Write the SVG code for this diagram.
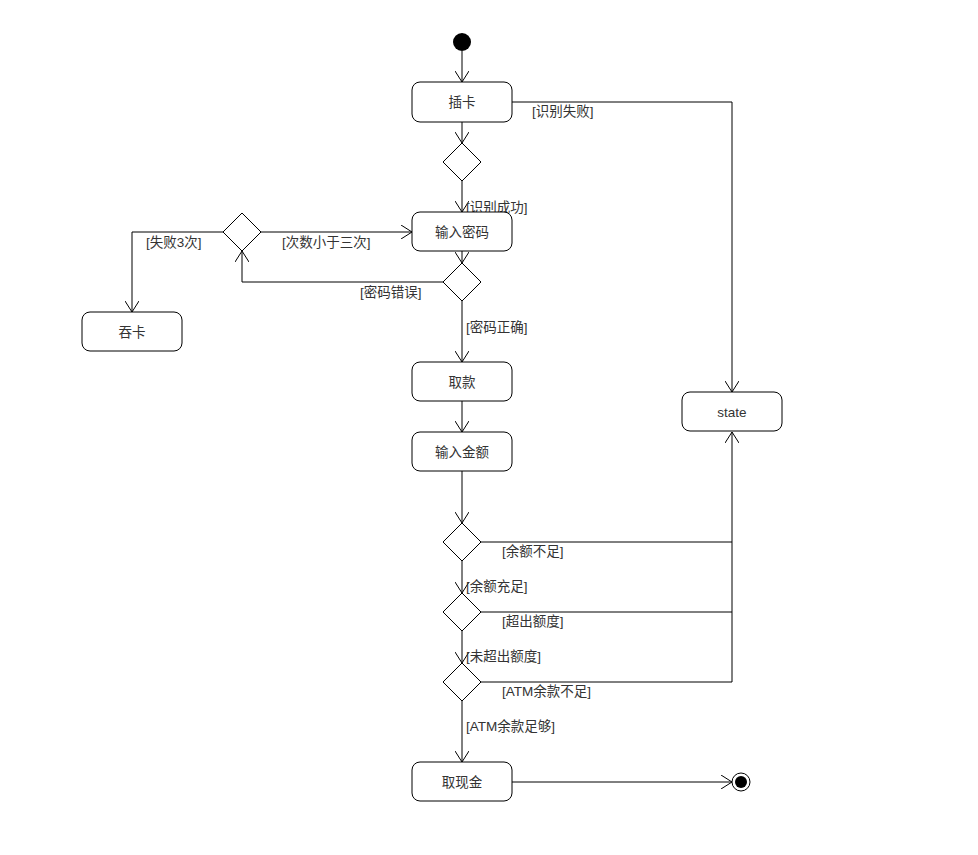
<svg xmlns="http://www.w3.org/2000/svg" width="978" height="855" viewBox="0 0 978 855">
<defs>
<marker id="arr" viewBox="0 0 12 14" refX="11" refY="7" markerWidth="12" markerHeight="14" markerUnits="userSpaceOnUse" orient="auto">
<path d="M0,0 L11,7 L0,14" fill="none" stroke="#000" stroke-width="1"/>
</marker>
</defs>
<style>
.box{fill:#fff;stroke:#000;stroke-width:1}
.dia{fill:#fff;stroke:#000;stroke-width:1}
.c{fill:none;stroke:#000;stroke-width:1;marker-end:url(#arr)}
.t{font-family:"Liberation Sans","Noto Sans CJK SC",sans-serif;font-size:13.5px;fill:#333}
.m{text-anchor:middle}
</style>
<rect width="978" height="855" fill="#fff"/>
<g id="connectors">
<path class="c" d="M462,51 V82"/>
<path class="c" d="M512,102 H732 V392"/>
<path class="c" d="M462,122 V143"/>
<path class="c" d="M462,181 V212"/>
<path class="c" d="M462,251 V263"/>
<path class="c" d="M443,282 H242 V251"/>
<path class="c" d="M261,232 H412"/>
<path class="c" d="M223,232 H132 V312"/>
<path class="c" d="M462,301 V362"/>
<path class="c" d="M462,401 V432"/>
<path class="c" d="M462,471 V523"/>
<path class="c" d="M481,542 H732 V432"/>
<path class="c" d="M462,561 V593"/>
<path fill="none" stroke="#000" d="M481,612 H732"/>
<path class="c" d="M462,631 V663"/>
<path fill="none" stroke="#000" d="M481,682 H732 V542"/>
<path class="c" d="M462,701 V762"/>
<path class="c" d="M512,782 H732"/>
<text class="t" x="532" y="116">[识别失败]</text>
<text class="t" x="466" y="212">[识别成功]</text>
<text class="t" x="282" y="247">[次数小于三次]</text>
<text class="t" x="146" y="247">[失败3次]</text>
<text class="t" x="360" y="297">[密码错误]</text>
<text class="t" x="466" y="332">[密码正确]</text>
<text class="t" x="502" y="556">[余额不足]</text>
<text class="t" x="466" y="591">[余额充足]</text>
<text class="t" x="502" y="626">[超出额度]</text>
<text class="t" x="466" y="661">[未超出额度]</text>
<text class="t" x="502" y="696">[ATM余款不足]</text>
<text class="t" x="466" y="731">[ATM余款足够]</text>
</g>
<g id="start"><circle cx="462" cy="42" r="9" fill="#000"/></g>
<g id="insert"><rect class="box" x="412" y="82" width="100" height="40" rx="8"/><text class="t m" x="462" y="107">插卡</text></g>
<g id="d1"><path class="dia" d="M462,143 L481,162 L462,181 L443,162 Z"/></g>
<g id="pwd"><rect class="box" x="412" y="212" width="100" height="39" rx="8"/><text class="t m" x="462" y="237">输入密码</text></g>
<g id="d2"><path class="dia" d="M462,263 L481,282 L462,301 L443,282 Z"/></g>
<g id="d3"><path class="dia" d="M242,213 L261,232 L242,251 L223,232 Z"/></g>
<g id="swallow"><rect class="box" x="82" y="312" width="100" height="39" rx="8"/><text class="t m" x="132" y="337">吞卡</text></g>
<g id="withdraw"><rect class="box" x="412" y="362" width="100" height="39" rx="8"/><text class="t m" x="462" y="387">取款</text></g>
<g id="amount"><rect class="box" x="412" y="432" width="100" height="39" rx="8"/><text class="t m" x="462" y="457">输入金额</text></g>
<g id="d4"><path class="dia" d="M462,523 L481,542 L462,561 L443,542 Z"/></g>
<g id="d5"><path class="dia" d="M462,593 L481,612 L462,631 L443,612 Z"/></g>
<g id="d6"><path class="dia" d="M462,663 L481,682 L462,701 L443,682 Z"/></g>
<g id="cash"><rect class="box" x="412" y="762" width="100" height="39" rx="8"/><text class="t m" x="462" y="787">取现金</text></g>
<g id="state"><rect class="box" x="682" y="392" width="100" height="39" rx="8"/><text class="t m" x="732" y="417">state</text></g>
<g id="end"><circle cx="741" cy="782" r="9" fill="#fff" stroke="#000"/><circle cx="741" cy="782" r="6" fill="#000"/></g>
</svg>
